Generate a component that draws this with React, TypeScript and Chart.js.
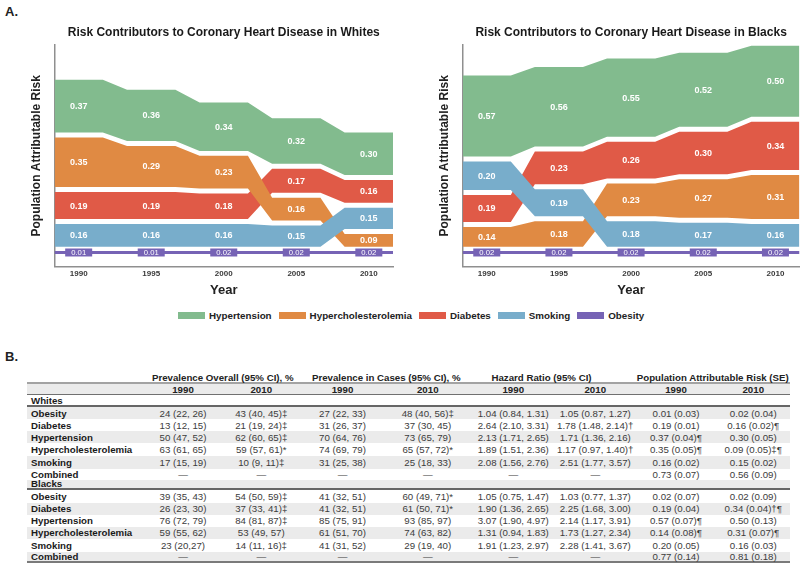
import React, { useEffect, useRef } from 'react';
import { Chart, registerables } from 'chart.js';
Chart.register(...registerables);

const FONT = '"Liberation Sans", Arial, Helvetica, sans-serif';

// ---------- Data (Part A) ----------
const YEARS = [1990, 1995, 2000, 2005, 2010];
const FACTORS = ['Hypertension', 'Hypercholesterolemia', 'Diabetes', 'Smoking', 'Obesity'];
const COLORS = ['#82bb8e', '#e08a43', '#e05a47', '#78adcb', '#7663b5'];

const whitesHypertension = [0.37, 0.36, 0.34, 0.32, 0.3];
const whitesHypercholesterolemia = [0.35, 0.29, 0.23, 0.16, 0.09];
const whitesDiabetes = [0.19, 0.19, 0.18, 0.17, 0.16];
const whitesSmoking = [0.16, 0.16, 0.16, 0.15, 0.15];
const whitesObesity = [0.01, 0.01, 0.02, 0.02, 0.02];

const blacksHypertension = [0.57, 0.56, 0.55, 0.52, 0.5];
const blacksHypercholesterolemia = [0.14, 0.18, 0.23, 0.27, 0.31];
const blacksDiabetes = [0.19, 0.23, 0.26, 0.3, 0.34];
const blacksSmoking = [0.2, 0.19, 0.18, 0.17, 0.16];
const blacksObesity = [0.02, 0.02, 0.02, 0.02, 0.02];

// ---------- Data (Part B) ----------
const GROUP_HEADERS = [
  'Prevalence Overall (95% CI), %',
  'Prevalence in Cases (95% CI), %',
  'Hazard Ratio (95% CI)',
  'Population Attributable Risk (SE)',
];
const SUB_YEARS = ['1990', '2010'];
const ROW_LABELS = ['Obesity', 'Diabetes', 'Hypertension', 'Hypercholesterolemia', 'Smoking', 'Combined'];
const whitesTable = [
  ['24 (22, 26)', '43 (40, 45)‡', '27 (22, 33)', '48 (40, 56)‡', '1.04 (0.84, 1.31)', '1.05 (0.87, 1.27)', '0.01 (0.03)', '0.02 (0.04)'],
  ['13 (12, 15)', '21 (19, 24)‡', '31 (26, 37)', '37 (30, 45)', '2.64 (2.10, 3.31)', '1.78 (1.48, 2.14)†', '0.19 (0.01)', '0.16 (0.02)¶'],
  ['50 (47, 52)', '62 (60, 65)‡', '70 (64, 76)', '73 (65, 79)', '2.13 (1.71, 2.65)', '1.71 (1.36, 2.16)', '0.37 (0.04)¶', '0.30 (0.05)'],
  ['63 (61, 65)', '59 (57, 61)*', '74 (69, 79)', '65 (57, 72)*', '1.89 (1.51, 2.36)', '1.17 (0.97, 1.40)†', '0.35 (0.05)¶', '0.09 (0.05)‡¶'],
  ['17 (15, 19)', '10 (9, 11)‡', '31 (25, 38)', '25 (18, 33)', '2.08 (1.56, 2.76)', '2.51 (1.77, 3.57)', '0.16 (0.02)', '0.15 (0.02)'],
  ['—', '—', '—', '—', '—', '—', '0.73 (0.07)', '0.56 (0.09)'],
];
const blacksTable = [
  ['39 (35, 43)', '54 (50, 59)‡', '41 (32, 51)', '60 (49, 71)*', '1.05 (0.75, 1.47)', '1.03 (0.77, 1.37)', '0.02 (0.07)', '0.02 (0.09)'],
  ['26 (23, 30)', '37 (33, 41)‡', '41 (32, 51)', '61 (50, 71)*', '1.90 (1.36, 2.65)', '2.25 (1.68, 3.00)', '0.19 (0.04)', '0.34 (0.04)†¶'],
  ['76 (72, 79)', '84 (81, 87)‡', '85 (75, 91)', '93 (85, 97)', '3.07 (1.90, 4.97)', '2.14 (1.17, 3.91)', '0.57 (0.07)¶', '0.50 (0.13)'],
  ['59 (55, 62)', '53 (49, 57)', '61 (51, 70)', '74 (63, 82)', '1.31 (0.94, 1.83)', '1.73 (1.27, 2.34)', '0.14 (0.08)¶', '0.31 (0.07)¶'],
  ['23 (20,27)', '14 (11, 16)‡', '41 (31, 52)', '29 (19, 40)', '1.91 (1.23, 2.97)', '2.28 (1.41, 3.67)', '0.20 (0.05)', '0.16 (0.03)'],
  ['—', '—', '—', '—', '—', '—', '0.77 (0.14)', '0.81 (0.18)'],
];

// ---------- Layout constants ----------
const BASE = 0.14;
const GAP = 0.035;
const OB_LEVEL = 0.1;
const HALF = 5 / 3;
const X_MIN = YEARS[0] - HALF;
const X_MAX = YEARS[YEARS.length - 1] + HALF;
const Y_MAX = 1.56;
const DRAW_ORDER = [3, 1, 2, 0]; // lower = drawn on top

type Band = { lo: number[]; hi: number[] };

function buildBands(values: number[][]): Band[] {
  const bands: Band[] = values.map(() => ({ lo: [], hi: [] }));
  YEARS.forEach((_, i) => {
    const idx = values.map((_, k) => k).sort((a, b) => values[a][i] - values[b][i]);
    let b = BASE;
    idx.forEach((k) => {
      bands[k].lo[i] = b;
      bands[k].hi[i] = b + values[k][i];
      b += values[k][i] + GAP;
    });
  });
  return bands;
}

const pts = (arr: number[]) =>
  YEARS.flatMap((yr, i) => [
    { x: yr - HALF, y: arr[i] },
    { x: yr + HALF, y: arr[i] },
  ]);

type ChartProps = {
  title: string;
  values: number[][];
  obesity: number[];
  left: number;
  areaLeft: number;
  padRight: number;
  yTitlePad: number;
};

function BumpChart({ title, values, obesity, left, areaLeft, padRight, yTitlePad }: ChartProps) {
  const ref = useRef<HTMLCanvasElement>(null);
  useEffect(() => {
    const bands = buildBands(values);
    const datasets: any[] = [];
    bands.forEach((band, k) => {
      datasets.push({
        label: FACTORS[k] + ' base',
        data: pts(band.lo),
        borderWidth: 0,
        borderColor: 'rgba(0,0,0,0)',
        pointRadius: 0,
        fill: false,
        order: DRAW_ORDER[k],
      });
      datasets.push({
        label: FACTORS[k],
        data: pts(band.hi),
        borderWidth: 0,
        borderColor: 'rgba(0,0,0,0)',
        backgroundColor: COLORS[k],
        pointRadius: 0,
        fill: '-1',
        order: DRAW_ORDER[k],
      });
    });
    datasets.push({
      label: FACTORS[4],
      data: pts(YEARS.map(() => OB_LEVEL)),
      borderColor: COLORS[4],
      borderWidth: 3,
      pointRadius: 0,
      fill: false,
      order: -1,
    });

    const labelPlugin = {
      id: 'bandLabels',
      afterDatasetsDraw(chart: any) {
        const { ctx } = chart;
        const xs = chart.scales.x;
        const ys = chart.scales.y;
        ctx.save();
        ctx.textAlign = 'center';
        ctx.textBaseline = 'middle';
        ctx.font = `bold 9px ${FONT}`;
        ctx.fillStyle = '#ffffff';
        bands.forEach((band, k) => {
          YEARS.forEach((yr, i) => {
            ctx.fillText(
              values[k][i].toFixed(2),
              xs.getPixelForValue(yr),
              ys.getPixelForValue((band.lo[i] + band.hi[i]) / 2) + 0.5
            );
          });
        });
        ctx.font = `7.7px ${FONT}`;
        YEARS.forEach((yr, i) => {
          const px = xs.getPixelForValue(yr);
          const py = ys.getPixelForValue(OB_LEVEL);
          ctx.fillStyle = COLORS[4];
          ctx.fillRect(px - 13.5, py - 4, 27, 8);
          ctx.fillStyle = '#ffffff';
          ctx.fillText(obesity[i].toFixed(2), px, py + 0.5);
        });
        ctx.restore();
      },
    };

    const chart = new Chart(ref.current as HTMLCanvasElement, {
      type: 'line',
      data: { datasets },
      plugins: [labelPlugin],
      options: {
        responsive: false,
        animation: false,
        devicePixelRatio: 1,
        layout: { padding: { left: 0, right: padRight, top: 0, bottom: 0 } },
        elements: { line: { tension: 0 } },
        plugins: {
          legend: { display: false },
          tooltip: { enabled: false },
          title: {
            display: true,
            text: title,
            fullSize: false,
            color: '#1a1a1a',
            font: { family: FONT, size: 12, weight: 'bold' },
            padding: { top: 25.8, bottom: 4.8 },
          },
        },
        scales: {
          x: {
            type: 'linear',
            min: X_MIN,
            max: X_MAX,
            grid: { display: false, drawTicks: false },
            border: { display: true, color: '#8f8f8f', width: 1.5 },
            ticks: {
              color: '#3a3a3a',
              font: { family: FONT, size: 8, weight: 'bold' },
              padding: 2.5,
              autoSkip: false,
              maxRotation: 0,
              callback: (v: any) => String(v),
            },
            afterBuildTicks: (s: any) => {
              s.ticks = YEARS.map((v) => ({ value: v }));
            },
            title: {
              display: true,
              text: 'Year',
              color: '#222',
              font: { family: FONT, size: 13, weight: 'bold' },
              padding: { top: 0, bottom: 2.2 },
            },
            afterFit: (s: any) => {
              s.height = 33.3;
            },
          },
          y: {
            type: 'linear',
            min: 0,
            max: Y_MAX,
            grid: { display: false, drawTicks: false },
            border: { display: true, color: '#8f8f8f', width: 1.5 },
            ticks: { display: false },
            title: {
              display: true,
              text: 'Population Attributable Risk',
              color: '#222',
              font: { family: FONT, size: 12, weight: 'bold' },
              padding: { top: yTitlePad, bottom: 0 },
            },
            afterFit: (s: any) => {
              s.width = areaLeft;
            },
          },
        },
      } as any,
    });
    return () => chart.destroy();
  }, []);
  return (
    <canvas
      ref={ref}
      width={400}
      height={300}
      style={{ position: 'absolute', left, top: 0, width: 400, height: 300 }}
    />
  );
}

// ---------- Table ----------
const COL_WIDTHS = [117.5, 77, 79.5, 83, 87.5, 83.5, 80.5, 81, 73.5];
const ROW_HEIGHTS = [12, 11, 12, 12, 12, 12, 12.5, 13, 11, 10.5, 12.5, 12, 12, 12, 13.5, 10.5];
const GRAY = '#ebebeb';

function DataTable() {
  const rows: React.ReactNode[] = [];
  let top = 372;
  const rowStyle = (i: number, extra: any = {}) => {
    const s: any = {
      position: 'absolute',
      left: 27,
      top,
      width: 763,
      height: ROW_HEIGHTS[i],
      display: 'flex',
      alignItems: 'center',
      boxSizing: 'border-box',
      background: i >= 1 && i % 2 === 1 ? GRAY : 'transparent',
      ...extra,
    };
    top += ROW_HEIGHTS[i];
    return s;
  };
  const cell = (w: number, content: React.ReactNode, extra: any = {}) => ({
    w,
    content,
    extra,
  });
  const renderCells = (cells: any[]) =>
    cells.map((c, j) => (
      <div
        key={j}
        style={{
          width: c.w,
          flex: 'none',
          textAlign: 'center',
          whiteSpace: 'nowrap',
          ...c.extra,
        }}
      >
        {c.content}
      </div>
    ));

  // group header
  rows.push(
    <div key="g" style={rowStyle(0, { borderBottom: '2px solid #a3a3a3', fontWeight: 'bold', color: '#222' })}>
      {renderCells([
        cell(COL_WIDTHS[0], ''),
        cell(COL_WIDTHS[1] + COL_WIDTHS[2], GROUP_HEADERS[0]),
        cell(COL_WIDTHS[3] + COL_WIDTHS[4], GROUP_HEADERS[1]),
        cell(COL_WIDTHS[5] + COL_WIDTHS[6], GROUP_HEADERS[2], { paddingRight: 24, boxSizing: 'border-box' }),
        cell(COL_WIDTHS[7] + COL_WIDTHS[8], GROUP_HEADERS[3]),
      ])}
    </div>
  );
  // years
  rows.push(
    <div key="y" style={rowStyle(1, { borderBottom: '1.5px solid #707070', fontWeight: 'bold', color: '#222' })}>
      {renderCells([
        cell(COL_WIDTHS[0], ''),
        ...[0, 1, 2, 3].flatMap((g) => [
          cell(COL_WIDTHS[1 + g * 2], SUB_YEARS[0]),
          cell(COL_WIDTHS[2 + g * 2], SUB_YEARS[1]),
        ]),
      ])}
    </div>
  );
  const section = (name: string, data: string[][], rowIdx: number) => {
    rows.push(
      <div key={name} style={rowStyle(rowIdx, { borderBottom: '2px solid #666', fontWeight: 'bold', color: '#1a1a1a' })}>
        <div style={{ paddingLeft: 4 }}>{name}</div>
      </div>
    );
    data.forEach((vals, r) => {
      const i = rowIdx + 1 + r;
      const last = i === ROW_HEIGHTS.length - 1;
      rows.push(
        <div key={name + r} style={rowStyle(i, last ? { borderBottom: '2.5px solid #7a7a7a' } : {})}>
          {renderCells([
            cell(COL_WIDTHS[0], ROW_LABELS[r], {
              textAlign: 'left',
              paddingLeft: 4,
              boxSizing: 'border-box',
              fontWeight: 'bold',
              color: '#1a1a1a',
            }),
            ...vals.map((v, j) => cell(COL_WIDTHS[j + 1], v, { color: '#3c3c3c' })),
          ])}
        </div>
      );
    });
  };
  section('Whites', whitesTable, 2);
  section('Blacks', blacksTable, 9);
  return <>{rows}</>;
}

function Legend() {
  return (
    <div
      style={{
        position: 'absolute',
        left: 178,
        top: 309.7,
        height: 12,
        display: 'flex',
        alignItems: 'center',
        gap: 7,
        fontWeight: 'bold',
        fontSize: 9.8,
        color: '#222',
        whiteSpace: 'nowrap',
      }}
    >
      {FACTORS.map((f, k) => (
        <div key={f} style={{ display: 'flex', alignItems: 'center' }}>
          <div style={{ width: 27, height: 7, background: COLORS[k], marginRight: 4 }} />
          <span>{f}</span>
        </div>
      ))}
    </div>
  );
}

export default function App() {
  return (
    <div
      style={{
        position: 'absolute',
        left: 0,
        top: 0,
        width: 800,
        height: 566,
        background: '#fff',
        overflow: 'hidden',
        fontFamily: FONT,
        fontSize: 9.7,
      }}
    >
      <div style={{ position: 'absolute', left: 5, top: 3.5, fontSize: 13, fontWeight: 'bold', lineHeight: '15px', color: '#222' }}>
        A.
      </div>
      <BumpChart
        title="Risk Contributors to Coronary Heart Disease in Whites"
        values={[whitesHypertension, whitesHypercholesterolemia, whitesDiabetes, whitesSmoking]}
        obesity={whitesObesity}
        left={0}
        areaLeft={54.5}
        padRight={7}
        yTitlePad={29.8}
      />
      <BumpChart
        title="Risk Contributors to Coronary Heart Disease in Blacks"
        values={[blacksHypertension, blacksHypercholesterolemia, blacksDiabetes, blacksSmoking]}
        obesity={blacksObesity}
        left={400}
        areaLeft={62.7}
        padRight={0.5}
        yTitlePad={37.8}
      />
      <Legend />
      <div style={{ position: 'absolute', left: 5, top: 348.5, fontSize: 13, fontWeight: 'bold', lineHeight: '15px', color: '#222' }}>
        B.
      </div>
      <DataTable />
    </div>
  );
}
